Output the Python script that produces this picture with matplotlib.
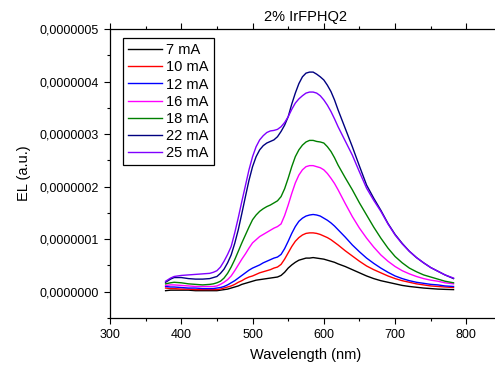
import matplotlib
matplotlib.use("Agg")
import matplotlib.pyplot as plt
from matplotlib.ticker import FuncFormatter, MultipleLocator
import numpy as np

plt.rcParams['font.family'] = ['Liberation Sans', 'DejaVu Sans']

# wavelength (nm)
wl = [378, 385, 390, 400, 410, 420, 430, 440, 445, 450,
      455, 460, 465, 470, 475, 480, 485, 490, 495, 500,
      505, 510, 515, 520, 525, 530, 535, 540, 545, 550,
      555, 560, 565, 570, 575, 580, 585, 590, 595, 600,
      605, 610, 615, 620, 630, 640, 650, 660, 670, 680,
      690, 700, 710, 720, 730, 740, 750, 760, 770, 782]

# EL intensity, in units of 1e-7
el_7 = [0.02, 0.03, 0.03, 0.03, 0.03, 0.02, 0.02, 0.02, 0.02, 0.02,
        0.03, 0.04, 0.05, 0.07, 0.09, 0.11, 0.14, 0.16, 0.18, 0.20,
        0.22, 0.23, 0.24, 0.25, 0.26, 0.27, 0.28, 0.31, 0.37, 0.45,
        0.51, 0.56, 0.60, 0.62, 0.64, 0.64, 0.65, 0.64, 0.63, 0.62,
        0.60, 0.58, 0.56, 0.53, 0.48, 0.42, 0.36, 0.30, 0.25, 0.21,
        0.18, 0.15, 0.12, 0.10, 0.085, 0.07, 0.06, 0.05, 0.045, 0.04]
el_10 = [0.07, 0.06, 0.06, 0.05, 0.05, 0.04, 0.04, 0.04, 0.04, 0.04,
         0.05, 0.07, 0.09, 0.11, 0.14, 0.18, 0.21, 0.25, 0.28, 0.30,
         0.33, 0.36, 0.38, 0.40, 0.42, 0.45, 0.47, 0.52, 0.62, 0.74,
         0.86, 0.96, 1.03, 1.08, 1.11, 1.12, 1.12, 1.11, 1.09, 1.06,
         1.03, 0.99, 0.94, 0.89, 0.78, 0.68, 0.58, 0.49, 0.42, 0.36,
         0.30, 0.25, 0.21, 0.18, 0.15, 0.13, 0.11, 0.10, 0.09, 0.08]
el_12 = [0.10, 0.09, 0.09, 0.08, 0.07, 0.07, 0.06, 0.06, 0.06, 0.07,
         0.08, 0.10, 0.13, 0.17, 0.21, 0.26, 0.31, 0.36, 0.41, 0.45,
         0.48, 0.51, 0.55, 0.58, 0.61, 0.64, 0.66, 0.71, 0.82, 0.96,
         1.11, 1.24, 1.34, 1.40, 1.44, 1.46, 1.47, 1.46, 1.44, 1.40,
         1.36, 1.31, 1.25, 1.18, 1.04, 0.89, 0.76, 0.64, 0.54, 0.45,
         0.37, 0.30, 0.25, 0.21, 0.18, 0.16, 0.14, 0.13, 0.11, 0.10]
el_16 = [0.12, 0.13, 0.13, 0.12, 0.11, 0.10, 0.10, 0.10, 0.10, 0.11,
         0.14, 0.18, 0.23, 0.30, 0.40, 0.51, 0.62, 0.72, 0.83, 0.93,
         0.99, 1.05, 1.09, 1.13, 1.17, 1.21, 1.24, 1.29, 1.45, 1.65,
         1.87, 2.07, 2.22, 2.32, 2.38, 2.40, 2.40, 2.38, 2.36, 2.32,
         2.25, 2.16, 2.06, 1.94, 1.68, 1.43, 1.21, 1.02, 0.85, 0.70,
         0.58, 0.48, 0.40, 0.34, 0.29, 0.25, 0.22, 0.20, 0.17, 0.15]
el_18 = [0.15, 0.17, 0.18, 0.17, 0.15, 0.14, 0.13, 0.14, 0.15, 0.17,
         0.20, 0.26, 0.35, 0.47, 0.61, 0.77, 0.93, 1.08, 1.23, 1.37,
         1.46, 1.53, 1.58, 1.62, 1.65, 1.69, 1.73, 1.81, 1.96, 2.16,
         2.38, 2.57, 2.70, 2.79, 2.85, 2.88, 2.88, 2.86, 2.85, 2.83,
         2.76, 2.67, 2.55, 2.41, 2.17, 1.94, 1.69, 1.46, 1.23, 1.02,
         0.83, 0.67, 0.55, 0.45, 0.38, 0.32, 0.28, 0.24, 0.20, 0.17]
el_22 = [0.18, 0.24, 0.27, 0.27, 0.25, 0.24, 0.24, 0.25, 0.27, 0.29,
         0.35, 0.43, 0.55, 0.70, 0.92, 1.18, 1.49, 1.81, 2.12, 2.38,
         2.57, 2.70, 2.78, 2.83, 2.86, 2.89, 2.95, 3.05, 3.17, 3.33,
         3.57, 3.78, 3.96, 4.09, 4.16, 4.18, 4.18, 4.14, 4.09, 4.03,
         3.93, 3.81, 3.65, 3.46, 3.11, 2.76, 2.39, 2.03, 1.78, 1.55,
         1.30, 1.09, 0.92, 0.77, 0.65, 0.55, 0.46, 0.39, 0.32, 0.25]
el_25 = [0.20, 0.26, 0.29, 0.31, 0.32, 0.33, 0.34, 0.35, 0.37, 0.40,
         0.47, 0.58, 0.71, 0.86, 1.12, 1.41, 1.72, 2.02, 2.32, 2.57,
         2.76, 2.89, 2.97, 3.03, 3.06, 3.07, 3.09, 3.14, 3.22, 3.33,
         3.47, 3.59, 3.67, 3.73, 3.78, 3.80, 3.80, 3.78, 3.73, 3.65,
         3.55, 3.43, 3.29, 3.14, 2.87, 2.60, 2.28, 1.97, 1.74, 1.53,
         1.29, 1.08, 0.91, 0.77, 0.65, 0.55, 0.46, 0.39, 0.32, 0.26]

labels = ['7 mA', '10 mA', '12 mA', '16 mA', '18 mA', '22 mA', '25 mA']
series = [el_7, el_10, el_12, el_16, el_18, el_22, el_25]
colors = ['#000000', '#ff0000', '#0000ff', '#ff00ff', '#008000', '#000080', '#8000ff']

fig = plt.figure(figsize=(4.95, 3.69), dpi=100)
ax = fig.add_axes([110/495, 51/369, 392/495, 289/369])

for y, c, lab in zip(series, colors, labels):
    ax.plot(wl, np.array(y) * 1e-7, color=c, lw=1.0, label=lab)

ax.set_xlim(300, 850)
ax.set_ylim(-0.5e-7, 5e-7)
ax.xaxis.set_major_locator(MultipleLocator(100))
ax.xaxis.set_minor_locator(MultipleLocator(50))
ax.yaxis.set_major_locator(MultipleLocator(1e-7))
ax.yaxis.set_minor_locator(MultipleLocator(0.5e-7))
ax.yaxis.set_major_formatter(FuncFormatter(lambda v, p: ('%.7f' % v).replace('.', ',').replace('-0,', '0,')))
ax.tick_params(which='both', direction='out', top=True, labelsize=9, width=0.8)
ax.tick_params(which='major', length=4.5)
ax.tick_params(which='minor', length=2.5)
for s in ax.spines.values():
    s.set_linewidth(0.9)

ax.set_xlabel('Wavelength (nm)', fontsize=10.5, labelpad=5)
ax.set_ylabel('EL (a.u.)', fontsize=10.5, labelpad=6)
ax.set_title('2% IrFPHQ2', fontsize=10.5, pad=6)

leg = ax.legend(loc='upper left', bbox_to_anchor=(123/495, 1 - 38/369),
                bbox_transform=fig.transFigure, borderaxespad=0, fontsize=10.5,
                handlelength=2.3, handletextpad=0.3, labelspacing=0.22,
                borderpad=0.35, fancybox=False, framealpha=1, edgecolor='black')
leg.get_frame().set_linewidth(0.9)

fig.savefig('out.png', dpi=100)
